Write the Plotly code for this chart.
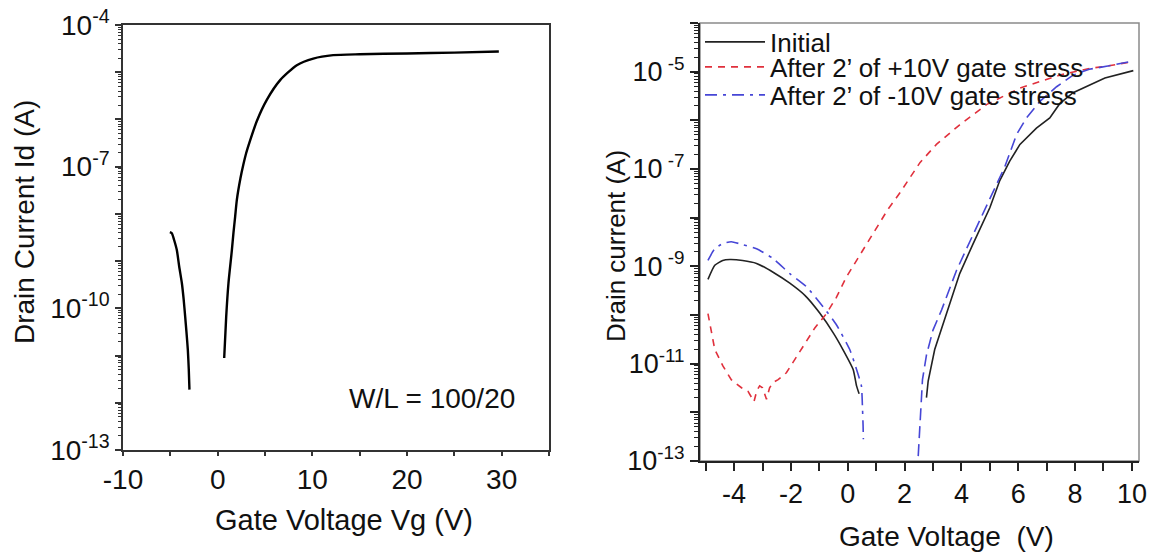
import plotly.graph_objects as go

# ---------------- data: left panel (transfer curve, W/L = 100/20) ----------------
left_branch1_vg = [-5.05, -4.84, -4.6, -4.31, -4.06, -3.78, -3.6, -3.43, -3.3, -3.15, -3.05, -2.98]
left_branch1_id = [4.1e-9, 3.9e-9, 2.8e-9, 1.7e-9, 7.6e-10, 3.4e-10, 1.6e-10, 6.6e-11, 3.2e-11, 1.3e-11, 5.0e-12, 1.9e-12]

left_branch2_vg = [0.69, 0.9, 1.14, 1.5, 1.67, 1.85, 2.03, 2.4, 2.72, 3.0, 3.43, 4.14, 5.19, 6.6, 8.36, 10.1,
                   12.2, 15, 20, 25, 29.7]
left_branch2_id = [8.9e-12, 6.6e-11, 3.4e-10, 1.7e-9, 4.0e-9, 8.9e-9, 2.0e-8, 5.6e-8, 1.12e-7, 1.9e-7, 3.6e-7,
                   9.3e-7, 2.6e-6, 6.8e-6, 1.41e-5, 1.95e-5, 2.3e-5, 2.4e-5, 2.5e-5, 2.6e-5, 2.75e-5]

# ---------------- data: right panel (gate stress) ----------------
init_left_vg = [-4.92, -4.68, -4.4, -4.15, -3.7, -3.21, -2.6, -2.04, -1.5, -1.0, -0.5, -0.17, 0.19, 0.31, 0.4]
init_left_id = [5.4e-10, 1.05e-9, 1.32e-9, 1.38e-9, 1.32e-9, 1.15e-9, 7.4e-10, 4.5e-10, 2.5e-10, 1.12e-10,
                4.2e-11, 1.95e-11, 7.6e-12, 3.5e-12, 2.4e-12]
init_right_vg = [2.77, 2.83, 3.06, 3.36, 3.6, 3.94, 4.41, 4.88, 5.0, 5.35, 5.7, 6.06, 6.64, 7.11, 7.46, 7.93,
                 8.52, 9.05, 10.05]
init_right_id = [2.0e-12, 4.4e-12, 1.95e-11, 6.8e-11, 1.9e-10, 7.1e-10, 2.9e-9, 1.1e-8, 1.6e-8, 5.8e-8, 1.45e-7,
                 3.2e-7, 6.9e-7, 1.12e-6, 2.2e-6, 3.7e-6, 5.4e-6, 7.4e-6, 1.05e-5]

pos_vg = [-4.92, -4.8, -4.68, -4.39, -4.1, -3.74, -3.51, -3.3, -3.2, -3.1, -3.0, -2.86, -2.75, -2.63, -2.45,
          -2.16, -1.87, -1.51, -1.16, -0.75, -0.4, -0.05, 0.31, 0.66, 1.01, 1.42, 1.83, 2.3, 2.54, 3.12,
          3.94, 4.88, 6.06, 7.46, 8.52, 9.19, 9.95]
pos_id = [1.07e-10, 4.3e-11, 1.95e-11, 8.9e-12, 4.7e-12, 3.2e-12, 2.7e-12, 1.66e-12, 2.8e-12, 3.5e-12, 3.2e-12,
          1.86e-12, 3.2e-12, 4.1e-12, 4.7e-12, 6.5e-12, 1.2e-11, 2.6e-11, 5.4e-11, 1.07e-10, 2.3e-10, 6.0e-10,
          1.32e-9, 2.9e-9, 6.3e-9, 1.5e-8, 3.2e-8, 8.5e-8, 1.35e-7, 3.2e-7, 8.1e-7, 2.1e-6, 4.6e-6, 8.5e-6,
          1.17e-5, 1.32e-5, 1.58e-5]

neg_left_vg = [-4.92, -4.7, -4.4, -4.1, -3.7, -3.21, -2.63, -2.04, -1.45, -0.87, -0.4, 0.07, 0.31, 0.48, 0.52,
               0.54, 0.55]
neg_left_id = [1.32e-9, 2.2e-9, 2.95e-9, 3.2e-9, 2.8e-9, 2.3e-9, 1.45e-9, 7.1e-10, 3.8e-10, 1.48e-10, 6.3e-11,
               1.95e-11, 7.6e-12, 3.5e-12, 1.15e-12, 5.2e-13, 2.8e-13]
neg_right_vg = [2.48, 2.54, 2.57, 2.63, 2.77, 3.0, 3.3, 3.83, 4.18, 4.53, 4.88, 5.24, 5.53, 5.94, 6.29, 6.76,
                7.35, 7.93, 8.5, 9.2, 10.05]
neg_right_id = [1.26e-13, 4.5e-13, 1.35e-12, 4.7e-12, 1.5e-11, 4.9e-11, 1.26e-10, 8.3e-10, 2.3e-9, 6.3e-9,
                1.6e-8, 4.5e-8, 1.12e-7, 5.1e-7, 1.12e-6, 2.45e-6, 4.9e-6, 8.5e-6, 1.12e-5, 1.32e-5, 1.66e-5]

legend_names = ["Initial", "After 2\u2019 of +10V gate stress", "After 2\u2019 of -10V gate stress"]

# ---------------- figure ----------------
W, H = 1154, 552
FONT = "Liberation Sans, Arial, sans-serif"
DARK = "#333333"
RED = "#e0303c"
BLUE = "#4646d6"


def px_x(p):
    return p / W


def px_y(p):
    return 1 - p / H


fig = go.Figure()

for vg, idv in [(left_branch1_vg, left_branch1_id), (left_branch2_vg, left_branch2_id)]:
    fig.add_trace(go.Scatter(x=vg, y=idv, mode="lines", xaxis="x", yaxis="y",
                             line=dict(color="black", width=2.4, shape="spline", smoothing=0.6),
                             showlegend=False, hoverinfo="skip"))

# Initial
fig.add_trace(go.Scatter(x=init_left_vg, y=init_left_id, mode="lines", xaxis="x2", yaxis="y2",
                         line=dict(color="#222222", width=1.6, shape="spline", smoothing=0.5),
                         name=legend_names[0], legend="legend", showlegend=True))
fig.add_trace(go.Scatter(x=init_right_vg, y=init_right_id, mode="lines", xaxis="x2", yaxis="y2",
                         line=dict(color="#222222", width=1.6), showlegend=False))
# +10V
fig.add_trace(go.Scatter(x=pos_vg, y=pos_id, mode="lines", xaxis="x2", yaxis="y2",
                         line=dict(color=RED, width=1.6, dash="7px,6px"),
                         name=legend_names[1], legend="legend2", showlegend=True))
# -10V
fig.add_trace(go.Scatter(x=neg_left_vg, y=neg_left_id, mode="lines", xaxis="x2", yaxis="y2",
                         line=dict(color=BLUE, width=1.6, dash="12px,6px,3px,6px", shape="spline", smoothing=0.5),
                         name=legend_names[2], legend="legend3", showlegend=True))
fig.add_trace(go.Scatter(x=neg_right_vg, y=neg_right_id, mode="lines", xaxis="x2", yaxis="y2",
                         line=dict(color=BLUE, width=1.6, dash="12px,6px"), showlegend=False))

# ----- left axes -----
left_xt = list(range(-10, 40, 5))
left_xl = [str(v) if v % 10 == 0 else "" for v in left_xt]
left_decades = list(range(-13, -3))
left_yt = [10.0 ** k for k in left_decades]
left_yl = ["10<sup>%d</sup>" % k if (k + 13) % 3 == 0 else "" for k in left_decades]
minor_left = [m * 10.0 ** k for k in range(-13, -4) for m in range(2, 10)]

xd_left = [px_x(123), px_x(549)]
yd_left = [px_y(450), px_y(25)]

fig.update_layout(
    xaxis=dict(domain=xd_left, anchor="y", range=[-10, 35], tickmode="array", tickvals=left_xt,
               ticktext=left_xl, ticks="outside", ticklen=4, tickwidth=1.5, tickcolor=DARK,
               showline=True, linecolor=DARK, linewidth=1.5, mirror=True, showgrid=False,
               zeroline=False, automargin=False, tickfont=dict(family=FONT, size=28, color="#111")),
    xaxis3=dict(overlaying="x", anchor="y", side="top", range=[-10, 35], tickmode="array",
                tickvals=left_xt, ticks="inside", ticklen=6, tickwidth=1.5, tickcolor=DARK,
                showticklabels=False, showline=False, showgrid=False, zeroline=False, automargin=False),
    yaxis=dict(domain=yd_left, anchor="x", type="log", range=[-13, -4], tickmode="array",
               tickvals=left_yt, ticktext=left_yl, ticks="outside", ticklen=6, tickwidth=1.5,
               tickcolor=DARK, showline=True, linecolor=DARK, linewidth=1.5, mirror=True,
               showgrid=False, zeroline=False, automargin=False,
               tickfont=dict(family=FONT, size=28, color="#111"),
               minor=dict(tickmode="array", tickvals=minor_left, ticks="outside", ticklen=3,
                          tickwidth=1, tickcolor=DARK, showgrid=False)),
)

# ----- right axes -----
right_xt = list(range(-5, 11))
right_xl = [str(v) if v % 2 == 0 else "" for v in right_xt]
right_decades = list(range(-13, -3))
right_yl_map = {-5: "10<sup> -5</sup>", -7: "10<sup> -7</sup>", -9: "10<sup> -9</sup>",
                -11: "10<sup>-11</sup>", -13: "10<sup>-13</sup>"}
right_yt = [10.0 ** k for k in right_decades]
right_yl = [right_yl_map.get(k, "") for k in right_decades]
minor_right = [m * 10.0 ** k for k in range(-13, -4) for m in range(2, 10)]

xd_right = [px_x(700), px_x(1139)]
yd_right = [px_y(461), px_y(23)]

fig.update_layout(
    xaxis2=dict(domain=xd_right, anchor="y2", range=[-5.2, 10.25], tickmode="array", tickvals=right_xt,
                ticktext=right_xl, ticks="outside", ticklen=8, tickwidth=1.5, tickcolor="#222",
                showline=True, linecolor="#222", linewidth=1.5, showgrid=False, zeroline=False,
                automargin=False, tickfont=dict(family=FONT, size=27, color="#111")),
    yaxis2=dict(domain=yd_right, anchor="x2", type="log", range=[-13, -4], tickmode="array",
                tickvals=right_yt, ticktext=right_yl, ticks="outside", ticklen=8, tickwidth=1.5,
                tickcolor="#222", showline=True, linecolor="#222", linewidth=2, showgrid=False,
                zeroline=False, automargin=False, tickfont=dict(family=FONT, size=27, color="#111"),
                minor=dict(tickmode="array", tickvals=minor_right, ticks="outside", ticklen=4,
                           tickwidth=1, tickcolor="#222", showgrid=False)),
)

# gray frame (top/right) of right panel
fig.add_shape(type="rect", xref="x2 domain", yref="y2 domain", x0=0, x1=1, y0=0, y1=1,
              line=dict(color="#8a8a8a", width=1.5), layer="below")

# ----- legends (one per entry, stacked) -----
leg_common = dict(xanchor="left", yanchor="middle", bgcolor="rgba(0,0,0,0)", borderwidth=0,
                  font=dict(family=FONT, size=26, color="#111"), itemwidth=60,
                  itemclick=False, itemdoubleclick=False)
fig.update_layout(
    legend=dict(x=px_x(700), y=px_y(42), **leg_common),
    legend2=dict(x=px_x(700), y=px_y(67), **leg_common),
    legend3=dict(x=px_x(700), y=px_y(95), **leg_common),
)

# ----- texts -----
ann_common = dict(xref="paper", yref="paper", showarrow=False, xanchor="center", yanchor="middle")
annotations = [
    dict(text="W/L = 100/20", x=22.6, y=-11.9, xref="x", yref="y", showarrow=False,
         xanchor="center", yanchor="middle", font=dict(family=FONT, size=28, color="#111")),
    dict(text="Gate Voltage Vg (V)", x=px_x(344), y=px_y(520),
         font=dict(family=FONT, size=29, color="#111"), **ann_common),
    dict(text="Drain Current Id (A)", x=px_x(24), y=px_y(222), textangle=-90,
         font=dict(family=FONT, size=28, color="#111"), **ann_common),
    dict(text="Gate Voltage  (V)", x=px_x(946), y=px_y(536),
         font=dict(family=FONT, size=28, color="#111"), **ann_common),
    dict(text="Drain current (A)", x=px_x(616), y=px_y(246), textangle=-90,
         font=dict(family=FONT, size=26, color="#111"), **ann_common),
]

fig.update_layout(
    width=W, height=H, margin=dict(l=0, r=0, t=0, b=0, autoexpand=False),
    paper_bgcolor="white", plot_bgcolor="white",
    annotations=annotations,
    font=dict(family=FONT, color="#111"),
)

fig.write_html("out.html", config={"displayModeBar": False},
               post_script="document.body.style.margin='0';document.body.style.overflow='hidden';")
